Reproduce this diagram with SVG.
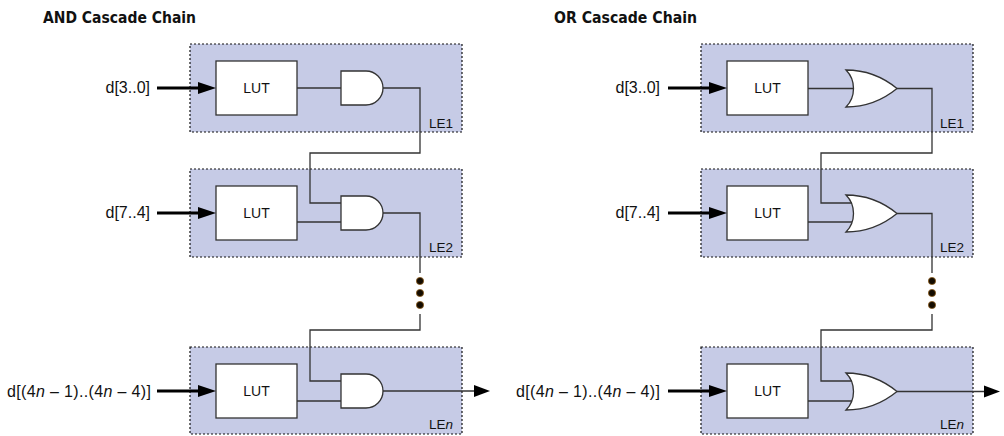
<svg xmlns="http://www.w3.org/2000/svg" width="1004" height="436" viewBox="0 0 1004 436">
<defs>
<style>
.le{fill:#c6cbe6;stroke:#111;stroke-width:1.2;stroke-dasharray:2,2}
.lut{fill:#fff;stroke:#333;stroke-width:1.3}
.gate{fill:#fff;stroke:#333;stroke-width:1.3}
.w{fill:none;stroke:#333;stroke-width:1.3}
.bus{fill:none;stroke:#000;stroke-width:3}
.ah{fill:#000}
.t{font-family:"Liberation Sans",Arial,sans-serif;font-size:14px;fill:#111}
.in{font-family:"Liberation Sans",Arial,sans-serif;font-size:16px;fill:#111}
.lab{font-family:"Liberation Sans",Arial,sans-serif;font-size:13.5px;fill:#111}
.title{font-family:"Liberation Sans Narrow","DejaVu Sans Condensed","Liberation Sans",sans-serif;font-weight:bold;font-size:16.5px;fill:#111}
.dot{fill:#140c00;stroke:#8a5a1a;stroke-width:0.8}
</style>
</defs>
<rect width="1004" height="436" fill="#fff"/>

<text class="title" x="43" y="23" textLength="153" lengthAdjust="spacingAndGlyphs">AND Cascade Chain</text>
<text class="title" x="554" y="23" textLength="143" lengthAdjust="spacingAndGlyphs">OR Cascade Chain</text>

<!-- AND chain -->
<g id="and-le1">
<rect class="le" x="190" y="44" width="272" height="88"/>
<text class="lab" x="429" y="128">LE1</text>
</g>
<g id="and-le2">
<rect class="le" x="190" y="169" width="272" height="88"/>
<text class="lab" x="429" y="252">LE2</text>
</g>
<g id="and-len">
<rect class="le" x="190" y="347" width="272" height="87"/>
<text class="lab" x="429" y="429">LE<tspan font-style="italic">n</tspan></text>
</g>
<g id="and-lut1"><rect class="lut" x="216" y="61" width="81" height="54"/><text class="t" x="256.5" y="93" text-anchor="middle">LUT</text></g>
<g id="and-lut2"><rect class="lut" x="216" y="186" width="81" height="54"/><text class="t" x="256.5" y="218" text-anchor="middle">LUT</text></g>
<g id="and-lutn"><rect class="lut" x="216" y="364" width="81" height="54"/><text class="t" x="256.5" y="396" text-anchor="middle">LUT</text></g>
<g id="and-gate1"><path class="gate" d="M341,71 H366 A17,17 0 0 1 366,105 H341 Z"/></g>
<g id="and-gate2"><path class="gate" d="M341,196 H366 A17,17 0 0 1 366,230 H341 Z"/></g>
<g id="and-gaten"><path class="gate" d="M341,374 H366 A17,17 0 0 1 366,408 H341 Z"/></g>
<g id="and-in1"><text class="in" x="150" y="93" text-anchor="end">d[3..0]</text></g>
<g id="and-in2"><text class="in" x="150" y="218" text-anchor="end">d[7..4]</text></g>
<g id="and-inn"><text class="in" x="7" y="396.5" textLength="144" lengthAdjust="spacing">d[(4<tspan font-style="italic">n</tspan> – 1)..(4<tspan font-style="italic">n</tspan> – 4)]</text></g>
<g id="and-dots">
<circle class="dot" cx="420" cy="281" r="3.6"/>
<circle class="dot" cx="420" cy="293" r="3.6"/>
<circle class="dot" cx="420" cy="305" r="3.6"/>
</g>

<!-- OR chain -->
<g id="or-le1">
<rect class="le" x="701" y="44" width="272" height="88"/>
<text class="lab" x="940" y="128">LE1</text>
</g>
<g id="or-le2">
<rect class="le" x="701" y="169" width="272" height="88"/>
<text class="lab" x="940" y="252">LE2</text>
</g>
<g id="or-len">
<rect class="le" x="701" y="347" width="272" height="87"/>
<text class="lab" x="940" y="429">LE<tspan font-style="italic">n</tspan></text>
</g>
<g id="or-lut1"><rect class="lut" x="727" y="61" width="81" height="54"/><text class="t" x="767.5" y="93" text-anchor="middle">LUT</text></g>
<g id="or-lut2"><rect class="lut" x="727" y="186" width="81" height="54"/><text class="t" x="767.5" y="218" text-anchor="middle">LUT</text></g>
<g id="or-lutn"><rect class="lut" x="727" y="364" width="81" height="54"/><text class="t" x="767.5" y="396" text-anchor="middle">LUT</text></g>
<g id="or-gate1"><path class="gate" d="M846,70 C868,70 886,79.5 897,88.5 C886,97.5 868,107 846,107 C856,97 856,80 846,70 Z"/></g>
<g id="or-gate2"><path class="gate" d="M846,195 C868,195 886,204.5 897,213.5 C886,222.5 868,232 846,232 C856,222 856,205 846,195 Z"/></g>
<g id="or-gaten"><path class="gate" d="M846,373 C868,373 886,382.5 897,391.5 C886,400.5 868,410 846,410 C856,400 856,383 846,373 Z"/></g>
<g id="or-in1"><text class="in" x="660" y="93" text-anchor="end">d[3..0]</text></g>
<g id="or-in2"><text class="in" x="660" y="218" text-anchor="end">d[7..4]</text></g>
<g id="or-inn"><text class="in" x="516" y="396.5" textLength="144" lengthAdjust="spacing">d[(4<tspan font-style="italic">n</tspan> – 1)..(4<tspan font-style="italic">n</tspan> – 4)]</text></g>
<g id="or-dots">
<circle class="dot" cx="932" cy="281" r="3.6"/>
<circle class="dot" cx="932" cy="293" r="3.6"/>
<circle class="dot" cx="932" cy="305" r="3.6"/>
</g>

<g id="connectors">
<!-- AND input buses -->
<path class="bus" d="M157,88 H200"/><polygon class="ah" points="198,82 216,88 198,94"/>
<path class="bus" d="M157,213 H200"/><polygon class="ah" points="198,207 216,213 198,219"/>
<path class="bus" d="M157,391 H200"/><polygon class="ah" points="198,385 216,391 198,397"/>
<!-- AND wires -->
<path class="w" d="M297,88 H341"/>
<path class="w" d="M297,222 H341"/>
<path class="w" d="M297,401 H341"/>
<path class="w" d="M383,88 H420 V153 H310 V203 H341"/>
<path class="w" d="M383,213 H420 V273"/>
<path class="w" d="M420,314 V330 H310 V381 H341"/>
<path class="w" d="M383,391 H476"/><polygon class="ah" points="474,385 490,391 474,397"/>

<!-- OR input buses -->
<path class="bus" d="M668,88 H711"/><polygon class="ah" points="709,82 727,88 709,94"/>
<path class="bus" d="M668,213 H711"/><polygon class="ah" points="709,207 727,213 709,219"/>
<path class="bus" d="M668,391 H711"/><polygon class="ah" points="709,385 727,391 709,397"/>
<!-- OR wires -->
<path class="w" d="M808,88.5 H853"/>
<path class="w" d="M808,222 H852"/>
<path class="w" d="M808,401 H852"/>
<path class="w" d="M897,88.5 H932 V153 H821 V203 H852"/>
<path class="w" d="M897,213.5 H932 V273"/>
<path class="w" d="M932,314 V330 H821 V381 H852"/>
<path class="w" d="M897,391.5 H986"/><polygon class="ah" points="984,385.5 1000,391.5 984,397.5"/>
</g>
</svg>
